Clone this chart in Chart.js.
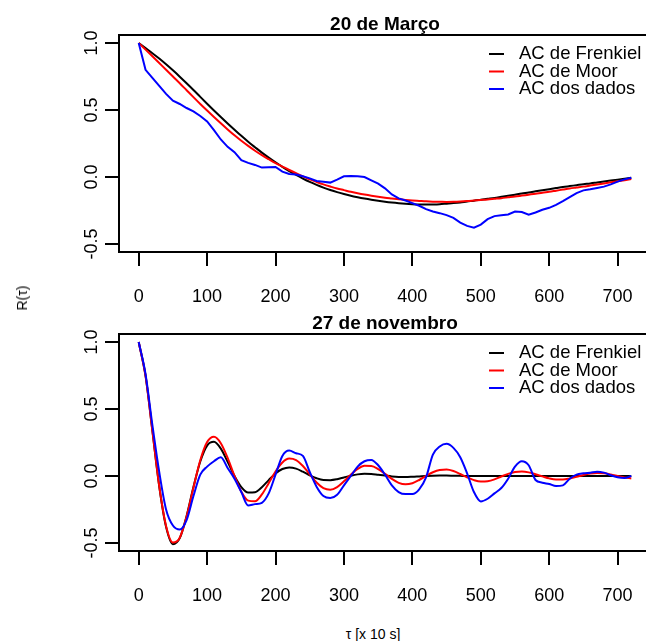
<!DOCTYPE html>
<html>
<head>
<meta charset="utf-8">
<script src="https://cdn.jsdelivr.net/npm/chart.js@4/dist/chart.umd.min.js"></script>
<style>
  html, body { margin: 0; padding: 0; background: #fff; overflow: hidden; width: 646px; height: 641px; }
  canvas { position: absolute; left: 0; }
  #top { top: 0; }
  #bottom { top: 299px; }
  .lab { position: absolute; font-family: "Liberation Sans", Arial, sans-serif; font-size: 14px; color: #000; white-space: nowrap; }
  #ylab { left: 22px; top: 298px; transform: translate(-50%, -50%) rotate(-90deg); }
  #xlab { left: 373px; top: 634px; transform: translate(-50%, -50%); }
</style>
</head>
<body>
<canvas id="top" width="660" height="310"></canvas>
<canvas id="bottom" width="660" height="310"></canvas>
<div class="lab" id="ylab">R(τ)</div>
<div class="lab" id="xlab">τ [x 10 s]</div>
<script>
// lag, in units of 10 s
const tau = [0, 10, 20, 30, 40, 50, 60, 70, 80, 90,
  100, 110, 120, 130, 140, 150, 160, 170, 180, 190,
  200, 210, 220, 230, 240, 250, 260, 270, 280, 290,
  300, 310, 320, 330, 340, 350, 360, 370, 380, 390,
  400, 410, 420, 430, 440, 450, 460, 470, 480, 490,
  500, 510, 520, 530, 540, 550, 560, 570, 580, 590,
  600, 610, 620, 630, 640, 650, 660, 670, 680, 690,
  700, 710, 720];

const xTicks = [0, 100, 200, 300, 400, 500, 600, 700];
const yTicks = [-0.5, 0, 0.5, 1];
const seriesNames = ['AC de Frenkiel', 'AC de Moor', 'AC dos dados'];
const seriesColors = ['#000000', '#ff0000', '#0000ff'];

// 20 de Março
const marFrenkiel = [1.000, 0.962, 0.924, 0.884, 0.841, 0.796, 0.749, 0.700, 0.650, 0.598,
  0.547, 0.497, 0.448, 0.400, 0.353, 0.307, 0.263, 0.222, 0.182, 0.145,
  0.110, 0.076, 0.044, 0.015, -0.012, -0.037, -0.059, -0.079, -0.097, -0.113,
  -0.127, -0.140, -0.151, -0.161, -0.170, -0.178, -0.185, -0.191, -0.196, -0.200,
  -0.203, -0.205, -0.206, -0.205, -0.203, -0.199, -0.195, -0.190, -0.183, -0.177,
  -0.170, -0.163, -0.156, -0.148, -0.140, -0.132, -0.124, -0.115, -0.107, -0.099,
  -0.091, -0.083, -0.075, -0.068, -0.061, -0.054, -0.048, -0.041, -0.034, -0.027,
  -0.020, -0.013, -0.006];
const marMoor = [1.000, 0.951, 0.901, 0.851, 0.800, 0.750, 0.700, 0.648, 0.596, 0.545,
  0.496, 0.448, 0.401, 0.355, 0.311, 0.270, 0.232, 0.196, 0.163, 0.133,
  0.104, 0.078, 0.052, 0.028, 0.005, -0.018, -0.037, -0.055, -0.071, -0.086,
  -0.098, -0.110, -0.121, -0.131, -0.140, -0.148, -0.155, -0.161, -0.167, -0.172,
  -0.176, -0.179, -0.182, -0.184, -0.185, -0.186, -0.185, -0.183, -0.180, -0.176,
  -0.172, -0.168, -0.163, -0.158, -0.152, -0.146, -0.139, -0.132, -0.125, -0.117,
  -0.110, -0.102, -0.094, -0.086, -0.079, -0.072, -0.064, -0.056, -0.048, -0.040,
  -0.032, -0.024, -0.016];
const marDados = [1.000, 0.800, 0.740, 0.680, 0.620, 0.570, 0.545, 0.515, 0.490, 0.455,
  0.415, 0.350, 0.280, 0.225, 0.185, 0.125, 0.105, 0.090, 0.070, 0.072,
  0.075, 0.040, 0.022, 0.018, 0.005, -0.010, -0.030, -0.035, -0.042, -0.020,
  0.005, 0.008, 0.005, 0.000, -0.025, -0.050, -0.085, -0.130, -0.160, -0.176,
  -0.195, -0.215, -0.240, -0.258, -0.270, -0.285, -0.305, -0.340, -0.365, -0.378,
  -0.355, -0.315, -0.292, -0.285, -0.280, -0.258, -0.262, -0.282, -0.265, -0.245,
  -0.230, -0.208, -0.180, -0.150, -0.120, -0.100, -0.092, -0.082, -0.072, -0.055,
  -0.035, -0.018, -0.005];

// 27 de novembro
const novFrenkiel = [1.000, 0.749, 0.339, -0.077, -0.380, -0.509, -0.464, -0.298, -0.083, 0.108,
  0.227, 0.255, 0.204, 0.106, 0.000, -0.083, -0.124, -0.121, -0.084, -0.031,
  0.019, 0.052, 0.064, 0.055, 0.032, 0.005, -0.017, -0.030, -0.031, -0.024,
  -0.011, 0.002, 0.012, 0.016, 0.015, 0.009, 0.003, -0.003, -0.007, -0.008,
  -0.006, -0.003, 0.000, 0.002, 0.003, 0.003, 0.002, 0.001, 0.000, 0.000,
  0.000, 0.000, 0.000, 0.000, 0.000, 0.000, 0.000, 0.000, 0.000, 0.000,
  0.000, 0.000, 0.000, 0.000, 0.000, 0.000, 0.000, 0.000, 0.000, 0.000,
  0.000, 0.000, 0.000];
const novMoor = [1.000, 0.745, 0.336, -0.076, -0.373, -0.497, -0.461, -0.304, -0.087, 0.117,
  0.253, 0.293, 0.245, 0.135, 0.000, -0.117, -0.184, -0.189, -0.138, -0.054,
  0.034, 0.101, 0.130, 0.119, 0.075, 0.013, -0.049, -0.091, -0.103, -0.083,
  -0.040, 0.010, 0.053, 0.076, 0.075, 0.052, 0.016, -0.022, -0.051, -0.062,
  -0.054, -0.030, 0.000, 0.028, 0.045, 0.048, 0.037, 0.015, -0.010, -0.031,
  -0.042, -0.039, -0.025, -0.004, 0.016, 0.030, 0.033, 0.027, 0.013, -0.003,
  -0.018, -0.026, -0.026, -0.018, -0.006, 0.008, 0.018, 0.023, 0.020, 0.011,
  0.000, -0.011, -0.018];
const novDados = [1.000, 0.760, 0.380, 0.030, -0.250, -0.370, -0.400, -0.330, -0.150, 0.010,
  0.070, 0.110, 0.140, 0.060, -0.020, -0.120, -0.220, -0.210, -0.200, -0.130,
  0.010, 0.150, 0.190, 0.170, 0.150, 0.030, -0.080, -0.150, -0.165, -0.140,
  -0.070, 0.000, 0.070, 0.110, 0.120, 0.080, 0.010, -0.070, -0.120, -0.135,
  -0.135, -0.100, -0.010, 0.160, 0.220, 0.240, 0.210, 0.140, 0.020, -0.120,
  -0.190, -0.170, -0.130, -0.090, -0.020, 0.070, 0.110, 0.080, -0.030, -0.050,
  -0.060, -0.075, -0.070, -0.020, 0.010, 0.020, 0.025, 0.032, 0.025, 0.005,
  -0.010, -0.015, 0.000];

const FONT = '"Liberation Sans", Arial, Helvetica, sans-serif';

function pts(vals) {
  return tau.map((t, i) => ({ x: t, y: vals[i] }));
}

// R-style frame, title, rotated y labels and legend
function rPanel(title) {
  return {
    id: 'rPanel',
    afterDraw(chart) {
      const ctx = chart.ctx, a = chart.chartArea, y = chart.scales.y;
      ctx.save();
      ctx.strokeStyle = '#000';
      ctx.lineWidth = 2;
      ctx.strokeRect(a.left, a.top, a.right - a.left, a.bottom - a.top);

      ctx.fillStyle = '#000';
      ctx.font = 'bold 19px ' + FONT;
      ctx.textAlign = 'center';
      ctx.textBaseline = 'alphabetic';
      ctx.fillText(title, (a.left + a.right) / 2, 30);

      // y labels read bottom to top, baseline facing the axis
      ctx.font = '18px ' + FONT;
      yTicks.forEach(v => {
        ctx.save();
        ctx.translate(a.left - 22.5, y.getPixelForValue(v));
        ctx.rotate(-Math.PI / 2);
        ctx.fillText(v.toFixed(1), 0, 0);
        ctx.restore();
      });

      ctx.font = '18.5px ' + FONT;
      ctx.textAlign = 'left';
      ctx.textBaseline = 'middle';
      seriesNames.forEach((name, i) => {
        const ly = a.top + 19 + i * 17.5;
        ctx.strokeStyle = seriesColors[i];
        ctx.beginPath();
        ctx.moveTo(a.right - 162, ly);
        ctx.lineTo(a.right - 147, ly);
        ctx.stroke();
        ctx.fillText(name, a.right - 132, ly);
      });
      ctx.restore();
    }
  };
}

function makeChart(id, title, series, roughData) {
  const datasets = series.map((vals, i) => ({
    label: seriesNames[i],
    data: pts(vals),
    borderColor: seriesColors[i],
    borderWidth: 2,
    pointRadius: 0,
    fill: false,
    order: 3 - i,
    cubicInterpolationMode: (i === 2 && roughData) ? 'default' : 'monotone',
    tension: (i === 2 && roughData) ? 0 : 0.4
  }));
  return new Chart(document.getElementById(id), {
    type: 'line',
    data: { datasets },
    options: {
      responsive: false,
      animation: false,
      layout: { padding: { left: 0, top: 35, right: 9, bottom: 0 } },
      plugins: { legend: { display: false }, title: { display: false }, tooltip: { enabled: false } },
      scales: {
        x: {
          type: 'linear',
          min: -28.8,
          max: 748.8,
          afterBuildTicks: s => { s.ticks = xTicks.map(v => ({ value: v })); },
          afterFit: s => { s.height = 58; },
          grid: { drawOnChartArea: false, drawTicks: true, tickLength: 14, color: '#000', lineWidth: 2 },
          border: { display: true, color: '#000', width: 2 },
          ticks: {
            autoSkip: false, maxRotation: 0, padding: 20, color: '#000',
            font: { family: FONT, size: 18 },
            callback: v => String(v)
          }
        },
        y: {
          type: 'linear',
          min: -0.56,
          max: 1.06,
          afterBuildTicks: s => { s.ticks = yTicks.map(v => ({ value: v })); },
          afterFit: s => { s.width = 119; },
          grid: { drawOnChartArea: false, drawTicks: true, tickLength: 14, color: '#000', lineWidth: 2 },
          border: { display: true, color: '#000', width: 2 },
          ticks: { display: false }
        }
      }
    },
    plugins: [rPanel(title)]
  });
}

makeChart('top', '20 de Março', [marFrenkiel, marMoor, marDados], true);
makeChart('bottom', '27 de novembro', [novFrenkiel, novMoor, novDados], false);
</script>
</body>
</html>
